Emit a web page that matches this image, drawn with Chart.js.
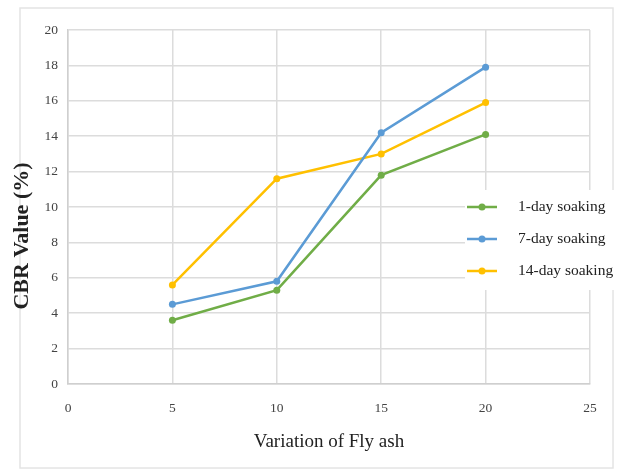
<!DOCTYPE html>
<html>
<head>
<meta charset="utf-8">
<script src="https://cdn.jsdelivr.net/npm/chart.js@4"></script>
<style>
  body { margin: 0; background: #fff; }
  #wrap { width: 618px; height: 470px; }
</style>
</head>
<body>
<div id="wrap"><canvas id="myChart" width="618" height="470"></canvas></div>
<script>
// fly ash % on x, CBR % on y
var flyAsh = [5, 10, 15, 20]
var oneDay = [3.6, 5.3, 11.8, 14.1]
var sevenDay = [4.5, 5.8, 14.2, 17.9]
var fourteenDay = [5.6, 11.6, 13.0, 15.9]
var seriesNames = ['1-day soaking', '7-day soaking', '14-day soaking']
var seriesColors = ['#70ad47', '#5b9bd5', '#ffc000']
var xTicks = [0, 5, 10, 15, 20, 25]
var yTicks = [0, 2, 4, 6, 8, 10, 12, 14, 16, 18, 20]
var yTitle = 'CBR Value (%)'

function toPoints(vals) {
   return vals.map(function (v, i) { return { x: flyAsh[i], y: v } })
}

var serif = "'Liberation Serif', 'Times New Roman', serif"

// faint frame around the whole figure
var framePlugin = {
   id: 'frame',
   beforeDraw: function (chart) {
      var ctx = chart.ctx
      ctx.save()
      ctx.strokeStyle = '#e4e4e4'
      ctx.lineWidth = 1.5
      ctx.strokeRect(20, 8, 593, 460)
      ctx.restore()
   }
}

// y title sits a bit below the middle in the original, so draw it by hand
var yTitlePlugin = {
   id: 'yTitle',
   afterDraw: function (chart) {
      var ctx = chart.ctx
      ctx.save()
      ctx.translate(22, 236)
      ctx.rotate(-Math.PI / 2)
      ctx.fillStyle = '#222'
      ctx.font = 'bold 22px ' + serif
      ctx.textAlign = 'center'
      ctx.textBaseline = 'middle'
      ctx.fillText(yTitle, 0, 0)
      ctx.restore()
   }
}

// legend sitting over the right part of the plot, like the original
var legendPlugin = {
   id: 'sideLegend',
   afterDatasetsDraw: function (chart) {
      var ctx = chart.ctx
      ctx.save()
      ctx.fillStyle = '#fff'
      ctx.fillRect(465, 190, 153, 100)
      chart.data.datasets.forEach(function (ds, i) {
         var y = 207 + i * 32
         ctx.strokeStyle = ds.borderColor
         ctx.lineWidth = 2.5
         ctx.beginPath()
         ctx.moveTo(467, y)
         ctx.lineTo(497, y)
         ctx.stroke()
         ctx.fillStyle = ds.borderColor
         ctx.beginPath()
         ctx.arc(482, y, 3.5, 0, Math.PI * 2)
         ctx.fill()
         ctx.fillStyle = '#222'
         ctx.font = '15.5px ' + serif
         ctx.textBaseline = 'middle'
         ctx.fillText(ds.label, 518, y)
      })
      ctx.restore()
   }
}

var chart = new Chart(document.getElementById('myChart').getContext('2d'), {
   type: 'line',
   data: {
      datasets: [
         { label: seriesNames[0], data: toPoints(oneDay), borderColor: seriesColors[0], backgroundColor: seriesColors[0] },
         { label: seriesNames[1], data: toPoints(sevenDay), borderColor: seriesColors[1], backgroundColor: seriesColors[1] },
         { label: seriesNames[2], data: toPoints(fourteenDay), borderColor: seriesColors[2], backgroundColor: seriesColors[2] }
      ]
   },
   options: {
      responsive: false,
      animation: false,
      layout: { padding: { left: 0, right: 28, top: 30, bottom: 0 } },
      elements: {
         line: { borderWidth: 2.5, tension: 0 },
         point: { radius: 3.5, borderWidth: 0 }
      },
      plugins: {
         legend: { display: false },
         tooltip: { enabled: false }
      },
      scales: {
         x: {
            type: 'linear',
            min: 0,
            max: 25,
            afterBuildTicks: function (axis) { axis.ticks = xTicks.map(function (v) { return { value: v } }) },
            afterFit: function (axis) { axis.height = 86 },
            grid: { color: '#dcdcdc', lineWidth: 1.5, drawTicks: false },
            border: { color: '#cfcfcf', width: 1.5 },
            ticks: { padding: 16, color: '#444', font: { family: serif, size: 13.5 } },
            title: { display: true, text: 'Variation of Fly ash', color: '#222', padding: { top: 0, bottom: 17 }, font: { family: serif, size: 19 } }
         },
         y: {
            min: 0,
            max: 20,
            afterBuildTicks: function (axis) { axis.ticks = yTicks.map(function (v) { return { value: v } }) },
            afterFit: function (axis) { axis.width = 68 },
            grid: { color: '#dcdcdc', lineWidth: 1.5, drawTicks: false },
            border: { color: '#cfcfcf', width: 1.5 },
            ticks: { padding: 10, color: '#444', font: { family: serif, size: 13.5 } }
         }
      }
   },
   plugins: [framePlugin, yTitlePlugin, legendPlugin]
})
</script>
</body>
</html>
